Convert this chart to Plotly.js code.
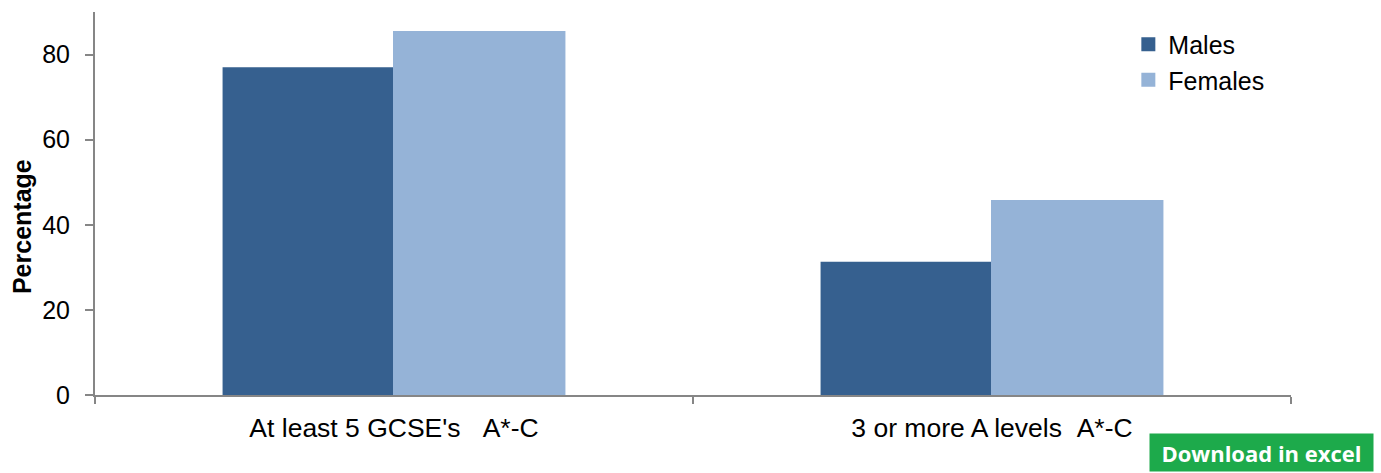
<!DOCTYPE html>
<html>
<head>
<meta charset="utf-8">
<script src="https://cdn.plot.ly/plotly-3.0.1.min.js"></script>
<style>html,body{margin:0;padding:0;background:#fff;}#chart{width:1381px;height:473px;}</style>
</head>
<body>
<div id="chart"></div>
<script>
const categories = ["At least 5 GCSE's\u00a0\u00a0\u00a0A*-C", "3 or more A levels\u00a0\u00a0A*-C"];
const malesValues = [76.8, 31.1];
const femalesValues = [85.3, 45.6];
const yTicks = [0, 20, 40, 60, 80];
const seriesNames = ['Males', 'Females'];
const seriesColors = ['#36608F', '#95B3D7'];
const yTitle = 'Percentage';

const traces = [
  {type: 'bar', name: seriesNames[0], x: categories, y: malesValues,
   marker: {color: seriesColors[0], line: {color: seriesColors[0], width: 2}}},
  {type: 'bar', name: seriesNames[1], x: categories, y: femalesValues,
   marker: {color: seriesColors[1], line: {color: seriesColors[1], width: 2}}}
];
const FONT = 'Liberation Sans, Arial, sans-serif';
const layout = {
  width: 1381, height: 473,
  margin: {l: 95, r: 90, t: 12, b: 78},
  paper_bgcolor: '#ffffff', plot_bgcolor: '#ffffff',
  font: {family: FONT, size: 25, color: '#000'},
  barmode: 'group', bargap: 0.43, bargroupgap: 0,
  showlegend: true,
  legend: {x: 0.864, y: 0.975, xanchor: 'left', yanchor: 'top', font: {size: 25, family: FONT},
           bgcolor: 'rgba(0,0,0,0)', itemwidth: 30, tracegroupgap: 0},
  xaxis: {
    showline: true, linecolor: '#868686', linewidth: 2,
    ticks: 'outside', tickson: 'boundaries', ticklen: 7, tickcolor: '#868686', tickwidth: 2,
    showgrid: false, zeroline: false, fixedrange: true,
    tickfont: {size: 26.5, family: FONT}, ticklabelstandoff: 8
  },
  yaxis: {
    range: [0, 90], tickvals: yTicks, ticktext: yTicks.map(String),
    showline: true, linecolor: '#868686', linewidth: 2,
    ticks: 'outside', ticklen: 8, tickcolor: '#868686', tickwidth: 2,
    showgrid: false, zeroline: false, fixedrange: true,
    tickfont: {size: 25, family: FONT}, ticklabelstandoff: 10
  },
  annotations: [{
    text: '<b>' + yTitle + '</b>', xref: 'paper', yref: 'paper', textangle: -90,
    x: -0.061, y: 0.4386, xanchor: 'center', yanchor: 'middle', showarrow: false,
    font: {size: 25, family: FONT, color: '#000'}
  }, {
    text: '<b>Download in excel</b>', xref: 'paper', yref: 'paper',
    x: 1.0693, y: -0.149, xanchor: 'right', yanchor: 'middle', showarrow: false,
    bgcolor: '#1DAA4B', font: {color: '#ffffff', size: 22, family: 'Open Sans, sans-serif'},
    width: 219, height: 33, borderpad: 2
  }]
};
Plotly.newPlot('chart', traces, layout, {displayModeBar: false, staticPlot: true});
</script>
</body>
</html>
